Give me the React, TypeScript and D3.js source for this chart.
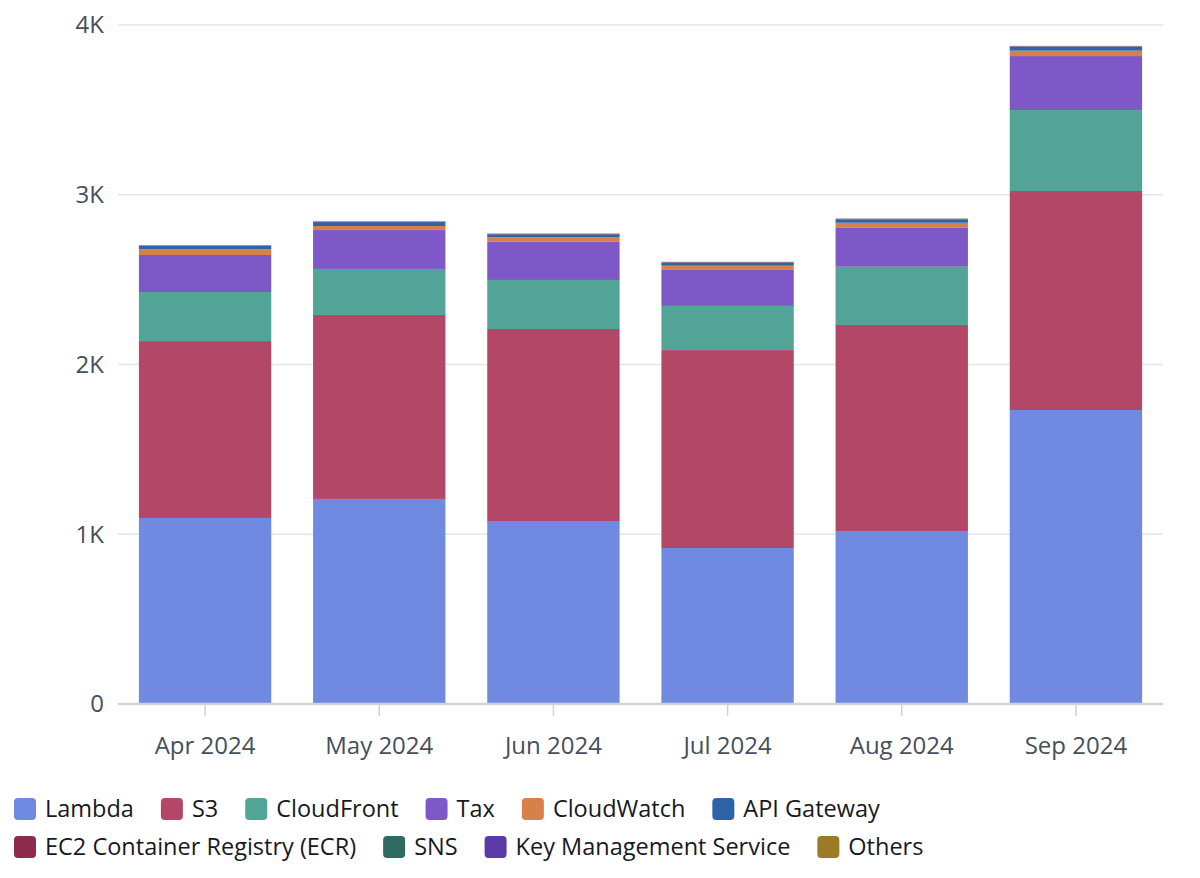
import React, { useRef, useEffect } from "react";
import * as d3 from "d3";

// months on the x axis
const months = ["Apr 2024", "May 2024", "Jun 2024", "Jul 2024", "Aug 2024", "Sep 2024"];

// services, bottom to top
const services = [
  "Lambda",
  "S3",
  "CloudFront",
  "Tax",
  "CloudWatch",
  "API Gateway",
  "EC2 Container Registry (ECR)",
  "SNS",
  "Key Management Service",
  "Others",
];

const colors = [
  "#6f8ae0",
  "#b34767",
  "#52a496",
  "#7f58c8",
  "#d8804a",
  "#2f63a8",
  "#8e2a4a",
  "#2e6a62",
  "#5e3aa8",
  "#9b7b27",
];

// monthly cost per service (USD)
const lambda = [1096, 1208, 1078, 919, 1019, 1732];
const s3 = [1042, 1084, 1131, 1166, 1214, 1290];
const cloudFront = [289, 271, 289, 260, 343, 477];
const tax = [218, 229, 225, 212, 232, 318];
const cloudWatch = [34, 24, 26, 25, 27, 32];
const apiGateway = [19, 23, 18, 18, 20, 23];
const ecr = [2, 2, 2, 2, 2, 2];
const sns = [1, 1, 1, 1, 1, 1];
const kms = [1, 1, 1, 1, 1, 1];
const others = [1, 1, 1, 1, 1, 1];

const yTicks = [0, 1000, 2000, 3000, 4000];

const seriesValues = [lambda, s3, cloudFront, tax, cloudWatch, apiGateway, ecr, sns, kms, others];

const FONT = "'Open Sans', 'Noto Sans', sans-serif";
const TEXT = "#464f5b";

const App: React.FC = () => {
  const ref = useRef<SVGSVGElement | null>(null);

  useEffect(() => {
    document.body.style.margin = "0";
    if (!ref.current) return;

    const width = 1200;
    const height = 878;
    const left = 118;
    const right = 1163;
    const top = 25;
    const bottom = 704;

    const svg = d3.select(ref.current).attr("width", width).attr("height", height);
    svg.selectAll("*").remove();

    const rows = months.map((m, i) => {
      const r: Record<string, number | string> = { month: m };
      services.forEach((s, j) => (r[s] = seriesValues[j][i]));
      return r;
    });

    const stacked = d3.stack<Record<string, number | string>>().keys(services)(rows as any);

    const x = d3.scaleBand<string>().domain(months).range([left, right]).paddingInner(0.24).paddingOuter(0.12);
    const y = d3.scaleLinear().domain([0, 4000]).range([bottom, top]);

    // grid
    svg
      .append("g")
      .selectAll("line")
      .data(yTicks.filter((t) => t > 0))
      .join("line")
      .attr("x1", left)
      .attr("x2", right)
      .attr("y1", (d) => y(d))
      .attr("y2", (d) => y(d))
      .attr("stroke", "#e3e5e8")
      .attr("stroke-width", 1.5);

    // y labels
    svg
      .append("g")
      .selectAll("text")
      .data(yTicks)
      .join("text")
      .attr("x", 104)
      .attr("y", (d) => y(d))
      .attr("dy", "0.35em")
      .attr("text-anchor", "end")
      .attr("font-family", FONT)
      .attr("font-size", 24)
      .attr("fill", TEXT)
      .text((d) => (d === 0 ? "0" : `${d / 1000}K`));

    // bars
    svg
      .append("g")
      .selectAll("g")
      .data(stacked)
      .join("g")
      .attr("fill", (_d, i) => colors[i])
      .selectAll("rect")
      .data((d) => d)
      .join("rect")
      .attr("x", (d) => x(d.data.month as string)!)
      .attr("width", x.bandwidth())
      .attr("y", (d) => y(d[1]))
      .attr("height", (d) => y(d[0]) - y(d[1]));

    // baseline + ticks
    svg
      .append("line")
      .attr("x1", left)
      .attr("x2", right)
      .attr("y1", bottom)
      .attr("y2", bottom)
      .attr("stroke", "#cfd3d8")
      .attr("stroke-width", 2.5);

    svg
      .append("g")
      .selectAll("line")
      .data(months)
      .join("line")
      .attr("x1", (d) => x(d)! + x.bandwidth() / 2)
      .attr("x2", (d) => x(d)! + x.bandwidth() / 2)
      .attr("y1", bottom + 1)
      .attr("y2", bottom + 12)
      .attr("stroke", "#cfd3d8")
      .attr("stroke-width", 1.5);

    svg
      .append("g")
      .selectAll("text")
      .data(months)
      .join("text")
      .attr("x", (d) => x(d)! + x.bandwidth() / 2)
      .attr("y", 754)
      .attr("text-anchor", "middle")
      .attr("font-family", FONT)
      .attr("font-size", 24)
      .attr("fill", TEXT)
      .text((d) => d);

    // legend (flowing, wraps at max width)
    const legend = svg.append("g");
    const maxX = 1000;
    let lx = 14;
    let ly = 809;
    services.forEach((s, i) => {
      const g = legend.append("g");
      g.append("rect")
        .attr("x", 0)
        .attr("y", -11)
        .attr("width", 22)
        .attr("height", 22)
        .attr("rx", 4)
        .attr("fill", colors[i]);
      const t = g
        .append("text")
        .attr("x", 31)
        .attr("dy", "0.35em")
        .attr("font-family", FONT)
        .attr("font-size", 23.5)
        .attr("fill", "#16191f")
        .text(s);
      const w = 31 + (t.node() as SVGTextElement).getComputedTextLength();
      if (lx + w > maxX) {
        lx = 14;
        ly += 38;
      }
      g.attr("transform", `translate(${lx},${ly})`);
      lx += w + 27;
    });
  }, []);

  return <svg ref={ref}></svg>;
};

export default App;
